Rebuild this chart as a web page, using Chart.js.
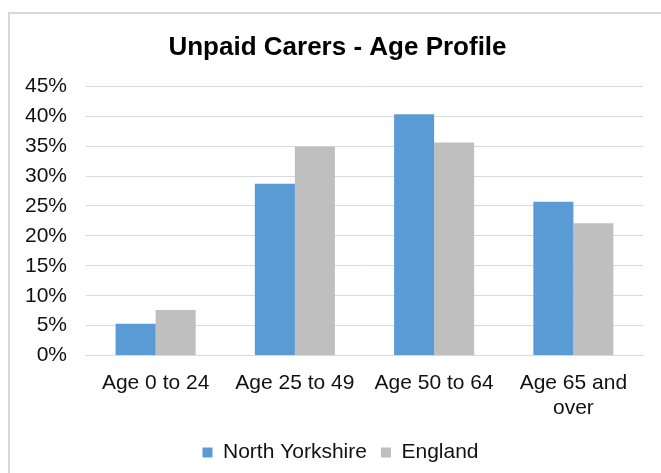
<!DOCTYPE html>
<html>
<head>
<meta charset="utf-8">
<title>Unpaid Carers - Age Profile</title>
<script src="https://cdn.jsdelivr.net/npm/chart.js@4/dist/chart.umd.min.js"></script>
<style>
  html, body { margin: 0; padding: 0; background: #fff; }
  #wrap { position: relative; width: 661px; height: 473px; overflow: hidden; }
  #frame {
    position: absolute; left: 8px; top: 12px; width: 720px; height: 520px;
    border: 2px solid #d9d9d9; box-sizing: border-box;
  }
  #chart { position: absolute; left: 0; top: 0; }
</style>
</head>
<body>
<div id="wrap">
  <div id="frame"></div>
  <canvas id="chart" width="661" height="473"></canvas>
</div>
<script>
const categories = ['Age 0 to 24', 'Age 25 to 49', 'Age 50 to 64', ['Age 65 and', 'over']];
const northYorkshire = [5.3, 28.7, 40.3, 25.7];
const england = [7.6, 34.9, 35.6, 22.1];
const yMax = 45;
const yStep = 5;

const FONT = "'Liberation Sans', Arial, sans-serif";
const TEXT = '#111';

// title and legend sit a little right of the plot centre in the original
const shiftBoxes = {
    id: 'shiftBoxes',
    afterLayout(chart) {
        if (chart.titleBlock) {
            chart.titleBlock.left += 5;
            chart.titleBlock.right += 5;
        }
        if (chart.legend) {
            chart.legend.left += 8;
            chart.legend.right += 8;
        }
    }
};

const ctx = document.getElementById('chart').getContext('2d');

new Chart(ctx, {
    type: 'bar',
    data: {
        labels: categories,
        datasets: [
            {
                label: 'North Yorkshire',
                data: northYorkshire,
                backgroundColor: '#5b9bd5',
                borderWidth: 0
            },
            {
                label: 'England',
                data: england,
                backgroundColor: '#bfbfbf',
                borderWidth: 0
            }
        ]
    },
    options: {
        responsive: false,
        animation: false,
        devicePixelRatio: 1,
        layout: {
            padding: { left: 22, right: 18, top: 12, bottom: 0 }
        },
        datasets: {
            bar: { barPercentage: 1.0, categoryPercentage: 0.575 }
        },
        plugins: {
            title: {
                display: true,
                text: 'Unpaid Carers - Age Profile',
                color: '#000',
                font: { family: FONT, size: 26, weight: 'bold' },
                padding: { top: 20, bottom: 23 }
            },
            legend: {
                display: true,
                position: 'bottom',
                labels: {
                    color: TEXT,
                    font: { family: FONT, size: 21 },
                    boxWidth: 10,
                    boxHeight: 10,
                    padding: 14
                }
            },
            tooltip: { enabled: false }
        },
        scales: {
            x: {
                grid: { display: false },
                border: { display: true, color: '#d9d9d9', width: 1 },
                ticks: {
                    color: TEXT,
                    font: { family: FONT, size: 21 },
                    maxRotation: 0,
                    autoSkip: false,
                    padding: 7
                }
            },
            y: {
                min: 0,
                max: yMax,
                afterFit: (scale) => { scale.width = 64; },
                grid: { color: '#d9d9d9', lineWidth: 1, drawTicks: false },
                border: { display: false },
                ticks: {
                    stepSize: yStep,
                    color: TEXT,
                    font: { family: FONT, size: 21 },
                    padding: 19,
                    callback: (value) => value + '%'
                }
            }
        }
    },
    plugins: [shiftBoxes]
});
</script>
</body>
</html>
